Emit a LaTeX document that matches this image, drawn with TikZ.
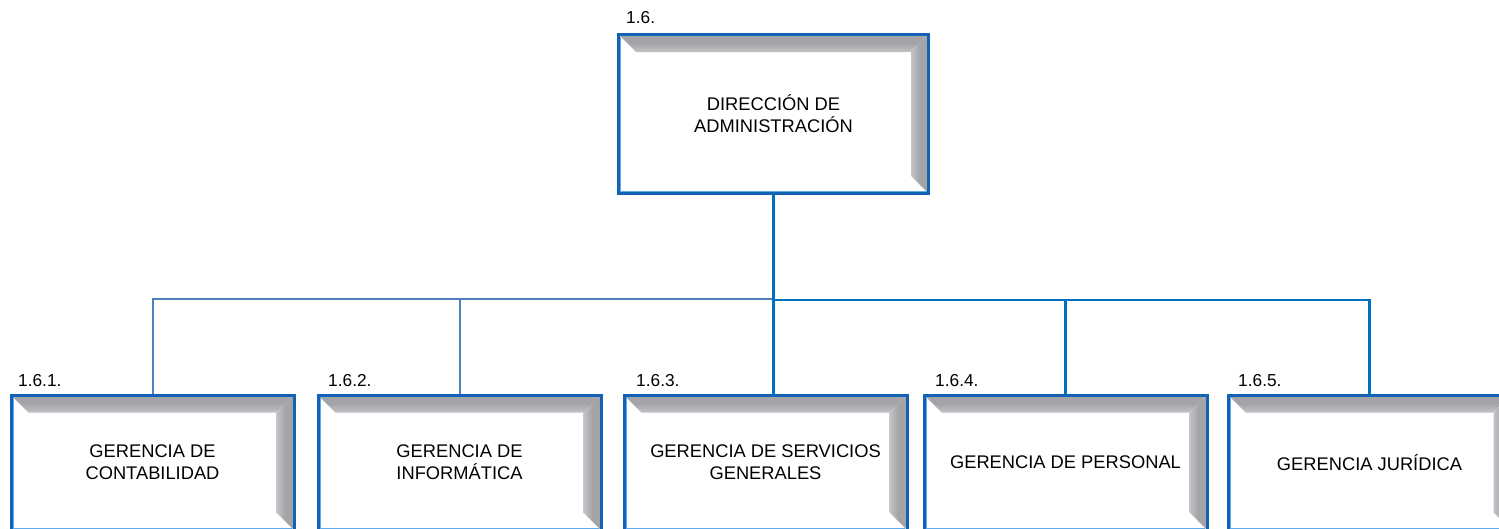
\documentclass[tikz,border=0pt]{standalone}
\usepackage{fontspec}
\setmainfont{Liberation Sans}
\definecolor{boxblue}{RGB}{18,98,182}
\definecolor{hiblue}{RGB}{95,170,235}
\definecolor{trunkblue}{RGB}{0,112,192}
\definecolor{steelblue}{RGB}{79,129,189}
\definecolor{bandgray}{RGB}{162,164,168}
\tikzset{
  orgbox/.style={draw=boxblue, line width=3pt, fill=white, inner sep=0pt, align=center,
    font=\fontsize{18.3}{22}\selectfont,
    path picture={
      \path (path picture bounding box.north west) coordinate (pnw)
            (path picture bounding box.north east) coordinate (pne)
            (path picture bounding box.south east) coordinate (pse)
            (path picture bounding box.south west) coordinate (psw);
      \shade[top color=bandgray, bottom color=bandgray!65, middle color=bandgray]
        (pnw) -- (pne) -- ([xshift=-17.5pt,yshift=-17.5pt]pne) -- ([xshift=17.5pt,yshift=-17.5pt]pnw) -- cycle;
      \shade[left color=bandgray!65, right color=bandgray, middle color=bandgray]
        (pne) -- (pse) -- ([xshift=-17.5pt,yshift=17.5pt]pse) -- ([xshift=-17.5pt,yshift=-17.5pt]pne) -- cycle;
      \draw[hiblue, line width=1pt] ([xshift=2pt,yshift=-2pt]pnw) -- ([xshift=2pt,yshift=2pt]psw) -- ([xshift=-2pt,yshift=2pt]pse);
    }},
  topbox/.style={orgbox, minimum width=310pt, minimum height=159pt},
  subbox/.style={orgbox, minimum width=283pt, minimum height=135pt},
  lbl/.style={anchor=base west, inner sep=0pt, font=\fontsize{17.3}{20}\selectfont},
  linkL/.style={draw=steelblue, line width=2pt},
  linkR/.style={draw=trunkblue, line width=2.5pt},
  trunk/.style={draw=trunkblue, line width=3pt}
}
\begin{document}
\begin{tikzpicture}[x=1pt, y=-1pt]
\useasboundingbox (0,0) rectangle (1499,528);
\clip (0,0) rectangle (1499,528);

% boxes
\node[topbox] (top) at (773.5,114) {DIRECCIÓN DE\\ADMINISTRACIÓN};
\node[subbox] (b1) at (152.5,462.5) {GERENCIA DE\\CONTABILIDAD};
\node[subbox] (b2) at (459.5,462.5) {GERENCIA DE\\INFORMÁTICA};
\node[subbox] (b3) at (765.5,462.5) {GERENCIA DE SERVICIOS\\GENERALES};
\node[subbox] (b4) at (1065.5,462.5) {GERENCIA DE PERSONAL};
\node[subbox] (b5) at (1369.5,462.5) {GERENCIA JURÍDICA};

% labels
\node[lbl] (l0) at (626,23) {1.6.};
\node[lbl] (l1) at (18,386.5) {1.6.1.};
\node[lbl] (l2) at (328,386.5) {1.6.2.};
\node[lbl] (l3) at (636,386.5) {1.6.3.};
\node[lbl] (l4) at (935,386.5) {1.6.4.};
\node[lbl] (l5) at (1238,386.5) {1.6.5.};

% connectors
\path (top.south) ++(0,103.5) coordinate (hubL);
\path (top.south) ++(0,105) coordinate (hubR);
\draw[linkL] (b1.north) |- (hubL);
\draw[linkL] (b2.north) -- (b2.north |- hubL);
\draw[linkR] (hubR) -| (b5.north);
\draw[linkR] (b4.north) -- (b4.north |- hubR);
\draw[trunk] (top.south) -- (top.south |- b3.north);
\end{tikzpicture}
\end{document}
